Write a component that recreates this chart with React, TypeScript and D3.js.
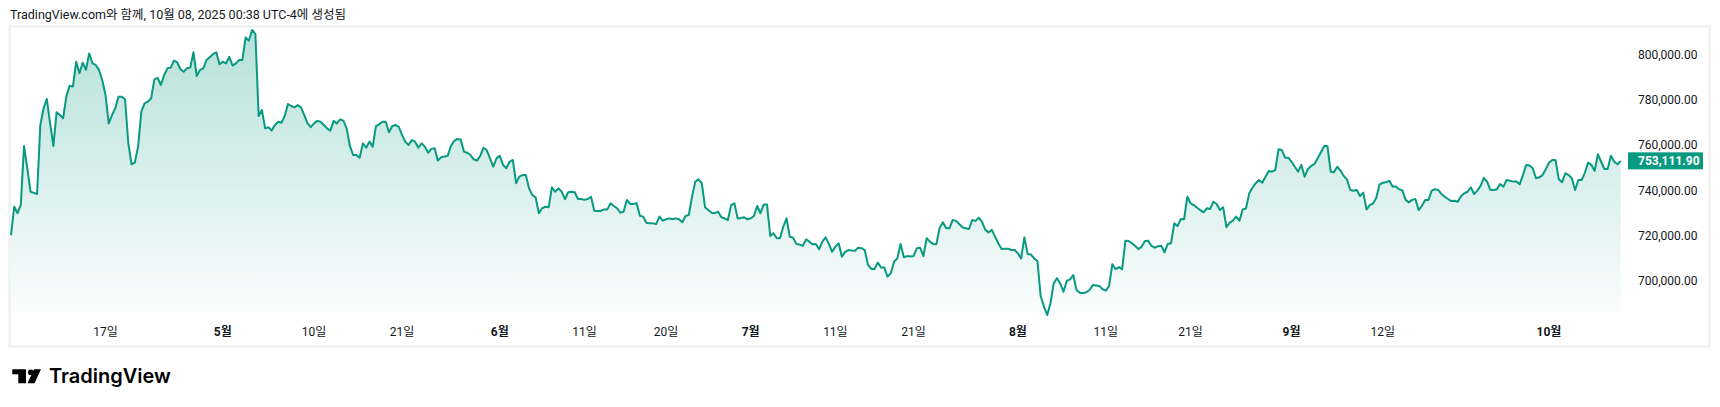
import React from "react";
import * as d3 from "d3";

// Price series, one value per bar, split by period
const seriesAprMay = [720200, 732800, 729900, 733500, 759700, 749800, 739400, 738900, 738400, 769000, 776400, 780500, 769700, 759700, 774600, 773400, 772000, 781800, 786400, 786000, 797000, 791900, 796600, 793400, 800700, 796300, 795600, 793400, 788900, 782300, 769700, 773400, 776400, 781500, 781500, 780400, 760900, 751600, 752300, 759400, 774900, 778600, 779300, 780800, 789200, 789900, 786700, 791100, 794100, 794400, 797500, 796800, 793700, 792600, 794100, 794400, 801200, 790700, 793400, 794100, 797800, 799000, 800400, 801200, 795900, 797000, 796300, 799200, 795300, 796300, 797800, 797800, 807800, 806300, 811100, 809300, 773000, 775600, 767500, 768000, 766500, 769000, 770400, 770000, 773000, 778300, 777400, 776800, 777800, 776800];
const seriesMayJun = [773400, 769700, 768000, 769700, 770800, 770400, 769000, 767500, 766500, 770800, 769700, 771500, 770900, 767500, 759700, 755700, 755700, 754500, 760900, 758900, 761600, 759400, 768500, 769300, 770400, 770400, 765800, 768500, 769000, 768200, 764600, 761600, 760100, 762300, 761600, 758900, 760900, 759400, 756700, 758400, 758700, 753200, 754700, 755000, 755300, 759700, 762000, 762800, 762600, 757200, 756700, 755700, 753800, 753200, 755300, 758900, 757900, 754200, 750500, 754200, 755300, 751300, 749800, 752700, 753500, 743200, 746100, 746800, 746800, 740900, 738000, 736900, 729900, 732100, 732800, 732500];
const seriesJunJul = [741400, 739400, 740900, 739400, 736100, 739200, 739400, 739200, 736200, 736200, 735800, 736200, 737200, 731000, 730900, 730900, 731600, 731600, 734300, 733100, 732100, 730100, 730600, 735800, 734000, 734000, 734300, 728800, 728400, 725700, 725400, 725400, 725100, 728400, 726600, 727200, 727600, 727200, 727600, 727200, 725900, 728700, 729100, 737200, 743900, 744900, 743200, 732500, 731300, 730100, 729900, 730600, 728100, 727600, 726900, 733500, 734300, 727600, 727800, 728100, 727200, 727600, 728700, 733100, 729900, 733800, 733800, 719800, 721000, 718800, 718800, 723900, 727600, 719500, 719100, 716300, 716000, 715500, 718300, 717300, 716100, 716300, 713900, 717300, 719200, 716300, 712800, 715100, 716600, 710600, 712800, 713600];
const seriesJulAug = [713400, 713300, 714600, 714400, 713600, 707000, 705200, 705200, 708000, 705900, 705800, 701800, 703300, 708400, 709900, 716300, 710400, 710900, 710700, 710900, 714400, 714600, 710900, 718800, 717300, 716300, 716200, 723500, 725900, 723200, 723200, 726900, 726500, 725100, 723700, 723200, 722900, 726900, 726500, 727900, 726100, 722500, 721400, 722500, 719500, 716600, 714000, 714200, 714200, 713600, 713600, 712100, 709900, 719200, 711800, 711600, 709900, 708700, 693200, 688500, 684800, 690000, 698800, 701100, 698800, 695100, 699900, 700600, 702500, 695900, 694700, 694500, 694900, 695900, 698100, 697900, 697700, 696200, 695600, 697700, 707300, 705100, 706000, 705100, 717700, 717600, 716600, 715400, 714000, 715100, 717600, 717700];
const seriesAugSep = [715400, 714600, 715300, 715500, 712600, 716300, 716600, 725400, 724200, 727300, 727200, 737200, 734300, 733500, 732300, 731300, 730300, 732100, 731800, 735000, 734000, 731300, 732500, 723700, 725700, 726600, 728400, 726600, 731600, 732000, 738700, 741200, 743200, 744600, 743400, 746100, 748600, 748300, 749100, 758200, 757900, 754500, 754500, 752700, 750500, 748300, 751300, 746100, 749400, 750900, 751700, 754200, 756900, 759700, 759700, 748300, 748000, 750500, 748800, 746400, 744900, 740200, 739900, 740200, 737500, 739000, 731600, 733500, 734200, 736800, 742700, 743400, 743600, 744300, 741700, 741700, 740500];
const seriesSepOct = [740000, 735800, 734700, 735800, 736200, 731300, 733200, 735800, 735800, 739900, 740500, 740200, 738400, 737200, 736200, 735300, 735400, 735000, 737500, 738700, 739400, 741400, 738400, 739900, 742000, 745600, 743900, 740200, 740200, 740500, 742800, 741700, 744600, 744300, 743900, 743900, 742700, 746800, 751300, 751000, 749800, 745400, 745800, 746800, 749400, 752300, 753500, 753500, 744900, 743600, 747600, 746900, 745400, 740200, 744600, 744600, 747800, 752300, 751300, 748700, 756000, 752700, 749500, 749500, 755400, 752700, 751600, 753111.9];

// X-axis labels at bar indexes
const xTickIndex = [29, 65, 93, 120, 150, 176, 201, 227, 253, 277, 309, 336, 362, 393, 421, 472];
const xTickLabel = ["17일", "5월", "10일", "21일", "6월", "11일", "20일", "7월", "11일", "21일", "8월", "11일", "21일", "9월", "12일", "10월"];
const xTickMajor = [false, true, false, false, true, false, false, true, false, false, true, false, false, true, false, true];

// Y-axis ticks
const yTicks = [700000, 720000, 740000, 760000, 780000, 800000];

const headerText = "TradingView.com와 함께, 10월 08, 2025 00:38 UTC-4에 생성됨";

const values = [...seriesAprMay, ...seriesMayJun, ...seriesJunJul, ...seriesJulAug, ...seriesAugSep, ...seriesSepOct];

const GREEN = "#089981";
const FONT = "Roboto, 'Noto Sans CJK KR', sans-serif";

export default function App() {
  const W = 1720;
  const H = 407;
  const plotBottom = 312;
  const x = d3.scaleLinear().domain([0, values.length - 1]).range([11, 1620.7]);
  const y = d3.scaleLinear().domain([700000, 800000]).range([280.7, 55]);
  const line = d3.line<number>().x((_, i) => x(i)).y((d) => y(d));
  const area = d3.area<number>().x((_, i) => x(i)).y0(plotBottom).y1((d) => y(d));
  const fmt = d3.format(",.2f");
  const last = values[values.length - 1];
  const ly = y(last);

  return (
    <svg width={W} height={H} style={{ position: "absolute", left: 0, top: 0, background: "#fff" }} fontFamily={FONT}>
      <defs>
        <linearGradient id="fillGrad" gradientUnits="userSpaceOnUse" x1="0" y1="27" x2="0" y2={plotBottom}>
          <stop offset="0" stopColor={GREEN} stopOpacity={0.3} />
          <stop offset="1" stopColor={GREEN} stopOpacity={0.02} />
        </linearGradient>
      </defs>
      <rect x={0} y={0} width={W} height={H} fill="#ffffff" />
      <text x={10} y={19} fontSize={12.5} fill="#131722">{headerText}</text>
      <rect x={9.5} y={26.5} width={1700} height={320} fill="none" stroke="#eeeeee" strokeWidth={2} />
      <path d={area(values) || ""} fill="url(#fillGrad)" />
      <path d={line(values) || ""} fill="none" stroke={GREEN} strokeWidth={2} strokeLinejoin="round" />
      {yTicks.map((t) => (
        <text key={t} x={1638} y={y(t)} dy="0.35em" fontSize={12} fill="#131722">{fmt(t)}</text>
      ))}
      <rect x={1628} y={ly - 8.5} width={75} height={17} fill={GREEN} />
      <text x={1638} y={ly} dy="0.35em" fontSize={12} fontWeight={700} fill="#ffffff">{fmt(last)}</text>
      {xTickIndex.map((idx, i) => (
        <text key={i} x={x(idx)} y={332} dy="0.35em" textAnchor="middle" fontSize={12} fontWeight={xTickMajor[i] ? 700 : 400} fill="#131722">{xTickLabel[i]}</text>
      ))}
      <g fill="#000">
        <path d="M12.3 369.3 H26 V383.3 H18.3 V374.3 H12.3 Z" />
        <circle cx={30.7} cy={372.2} r={2.8} />
        <path d="M34 369.3 H41 L34.5 383.3 H27.5 Z" />
      </g>
      <text x={49} y={383.3} fontSize={20} fontWeight={600} fill="#000" fontFamily="Inter, Roboto, sans-serif">TradingView</text>
    </svg>
  );
}
